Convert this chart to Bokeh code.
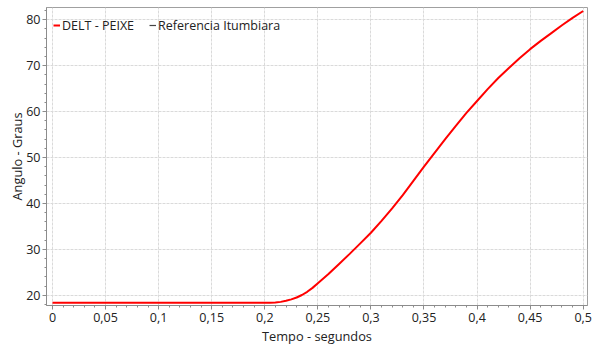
from bokeh.plotting import figure
from bokeh.models import FixedTicker, Legend, LegendItem, Range1d
from bokeh.embed import file_html
from bokeh.resources import INLINE

# --- data ---
tempo = [0.0, 0.20, 0.205, 0.21, 0.215, 0.22, 0.225, 0.23, 0.235, 0.24, 0.245,
         0.25, 0.26, 0.27, 0.28, 0.29,
         0.30, 0.31, 0.32, 0.33, 0.34, 0.35, 0.36, 0.37, 0.38, 0.39,
         0.40, 0.41, 0.42, 0.43, 0.44, 0.45, 0.46, 0.47, 0.48, 0.49, 0.50]
angulo = [18.35, 18.35, 18.37, 18.42, 18.55, 18.78, 19.1, 19.5, 20.05, 20.75, 21.6,
          22.6, 24.6, 26.8, 29.0, 31.3,
          33.6, 36.2, 38.9, 41.8, 44.9, 48.0, 51.0, 54.0, 56.9, 59.7,
          62.3, 64.9, 67.3, 69.5, 71.6, 73.6, 75.4, 77.1, 78.8, 80.4, 81.9]

x_ticks = [0, 0.05, 0.1, 0.15, 0.2, 0.25, 0.3, 0.35, 0.4, 0.45, 0.5]
x_tick_labels = ["0", "0,05", "0,1", "0,15", "0,2", "0,25", "0,3", "0,35", "0,4", "0,45", "0,5"]
x_minor = [0, 0.01, 0.02, 0.03, 0.04, 0.05, 0.06, 0.07, 0.08, 0.09, 0.1,
           0.11, 0.12, 0.13, 0.14, 0.15, 0.16, 0.17, 0.18, 0.19, 0.2,
           0.21, 0.22, 0.23, 0.24, 0.25, 0.26, 0.27, 0.28, 0.29, 0.3,
           0.31, 0.32, 0.33, 0.34, 0.35, 0.36, 0.37, 0.38, 0.39, 0.4,
           0.41, 0.42, 0.43, 0.44, 0.45, 0.46, 0.47, 0.48, 0.49, 0.5]
y_ticks = [20, 30, 40, 50, 60, 70, 80]
y_minor = [18, 20, 22, 24, 26, 28, 30, 32, 34, 36, 38, 40, 42, 44, 46, 48, 50,
           52, 54, 56, 58, 60, 62, 64, 66, 68, 70, 72, 74, 76, 78, 80, 82]

series_names = ["DELT - PEIXE", "Referencia Itumbiara"]

FONT = "Open Sans"
TXT = "#222222"

p = figure(width=596, height=347, output_backend="svg", toolbar_location=None,
           x_range=Range1d(-0.00565, 0.50405), y_range=Range1d(17.76, 82.67),
           min_border_left=46, min_border_right=9, min_border_top=7, min_border_bottom=41)

p.background_fill_color = "white"
p.border_fill_color = "white"
p.outline_line_color = "#a0a0a0"
p.outline_line_width = 1

r1 = p.line(tempo, angulo, line_color="#ff0000", line_width=2)
r2 = p.line([float("nan")], [float("nan")], line_color="#444444", line_width=1.2)

p.xaxis.ticker = FixedTicker(ticks=x_ticks, minor_ticks=x_minor)
p.xaxis.major_label_overrides = dict(zip(x_ticks, x_tick_labels))
p.yaxis.ticker = FixedTicker(ticks=y_ticks, minor_ticks=y_minor)

for ax in (p.xaxis[0], p.yaxis[0]):
    ax.axis_line_color = "#8c8c8c"
    ax.major_tick_line_color = "#8c8c8c"
    ax.minor_tick_line_color = "#8c8c8c"
    ax.major_tick_out = 4
    ax.major_tick_in = 0
    ax.minor_tick_out = 2
    ax.minor_tick_in = 0
    ax.major_label_text_font = FONT
    ax.major_label_text_font_size = "12.5px"
    ax.major_label_text_color = TXT
    ax.axis_label_text_font = FONT
    ax.axis_label_text_font_size = "12.8px"
    ax.axis_label_text_font_style = "normal"
    ax.axis_label_text_color = TXT

p.xaxis.major_label_standoff = 3
p.xaxis.axis_label_standoff = 2
p.yaxis.major_label_standoff = 2
p.yaxis.axis_label_standoff = -3

p.xaxis.axis_label = "Tempo - segundos"
p.yaxis.axis_label = "Angulo - Graus"

p.xgrid.grid_line_color = "#dadada"
p.ygrid.grid_line_color = "#dadada"
p.xgrid.grid_line_dash = "3 1"
p.ygrid.grid_line_dash = "3 1"

legend = Legend(items=[LegendItem(label=series_names[0], renderers=[r1]),
                       LegendItem(label=series_names[1], renderers=[r2])],
                orientation="horizontal", location="top_left",
                glyph_width=7, glyph_height=12, label_standoff=2, spacing=15,
                padding=0, margin=7, background_fill_alpha=0, border_line_alpha=0,
                label_text_font=FONT, label_text_font_size="12.5px",
                label_text_color=TXT, label_height=22)
p.add_layout(legend)

open("out.html", "w").write(file_html(p, INLINE))
